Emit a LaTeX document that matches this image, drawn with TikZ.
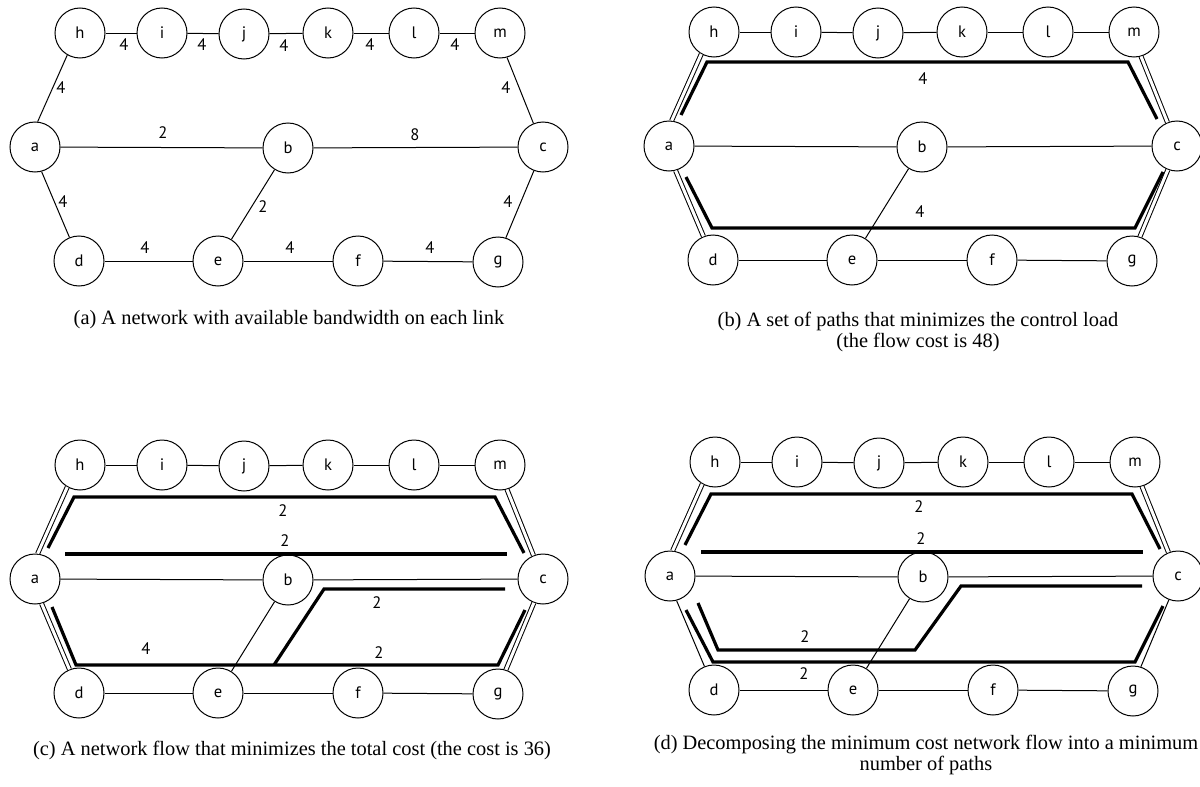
\documentclass[tikz,border=0pt]{standalone}
\usepackage{fontspec}
\setmainfont{Liberation Serif}
\setsansfont{PT Sans}
\newcommand\netnodes[1]{%
  \node[vtx] (#1h) at (80,33) {h};
  \node[vtx] (#1i) at (162,33) {i};
  \node[vtx] (#1j) at (244,34) {j};
  \node[vtx] (#1k) at (328,33) {k};
  \node[vtx] (#1l) at (414,33) {l};
  \node[vtx] (#1m) at (500,33) {m};
  \node[vtx] (#1a) at (35,147) {a};
  \node[vtx] (#1b) at (288,148) {b};
  \node[vtx] (#1c) at (543,147) {c};
  \node[vtx] (#1d) at (79,261) {d};
  \node[vtx] (#1e) at (218,261) {e};
  \node[vtx] (#1f) at (358,261) {f};
  \node[vtx] (#1g) at (498,262) {g};
  \draw[edge] (#1h) -- (#1i);
  \draw[edge] (#1i) -- (#1j);
  \draw[edge] (#1j) -- (#1k);
  \draw[edge] (#1k) -- (#1l);
  \draw[edge] (#1l) -- (#1m);
  \draw[edge] (#1a) -- (#1b);
  \draw[edge] (#1b) -- (#1c);
  \draw[edge] (#1b) -- (#1e);
  \draw[edge] (#1d) -- (#1e);
  \draw[edge] (#1e) -- (#1f);
  \draw[edge] (#1f) -- (#1g);
}
\tikzset{
  vtx/.style={circle, draw, line width=0.5pt, minimum size=25pt, inner sep=0pt, font=\sffamily\fontsize{8.3}{8.3}\selectfont},
  edge/.style={line width=0.5pt},
  dedge/.style={double, line width=0.5pt, double distance=1.5pt},
  flow/.style={line width=1.6pt},
  lbl/.style={inner sep=0pt, font=\sffamily\fontsize{8.3}{8.3}\selectfont},
  captxt/.style={inner sep=0pt, align=center, font=\fontsize{10.2}{10.3}\selectfont}
}
\begin{document}
\begin{tikzpicture}[x=0.5pt,y=-0.5pt]
\useasboundingbox (0,0) rectangle (1200,787);
% ---------- (a)
\begin{scope}
  \netnodes{A}
  \draw[edge] (Aa.84) -- (Ah.240);
  \draw[edge] (Am.286) -- (Ac.112);
  \draw[edge] (Aa.285) -- (Ad.112);
  \draw[edge] (Ac.249) -- (Ag.72);
  \node[lbl] (Al1) at (124,45) {4};
  \node[lbl] (Al2) at (202,45) {4};
  \node[lbl] (Al3) at (284,46) {4};
  \node[lbl] (Al4) at (370,45) {4};
  \node[lbl] (Al5) at (455,45) {4};
  \node[lbl] (Al6) at (61,88) {4};
  \node[lbl] (Al7) at (506,88) {4};
  \node[lbl] (Al8) at (163,133) {2};
  \node[lbl] (Al9) at (415,135) {8};
  \node[lbl] (Al10) at (63,202) {4};
  \node[lbl] (Al11) at (508,202) {4};
  \node[lbl] (Al12) at (263,207) {2};
  \node[lbl] (Al13) at (145,248) {4};
  \node[lbl] (Al14) at (290,248) {4};
  \node[lbl] (Al15) at (430,248) {4};
\end{scope}
\node[captxt] (capA) at (289,320) {(a) A network with available bandwidth on each link};
% ---------- (b)
\begin{scope}[shift={(634,-1)}]
  \netnodes{B}
  \draw[dedge] (Ba.84) -- (Bh.240);
  \draw[dedge] (Bm.286) -- (Bc.112);
  \draw[dedge] (Ba.285) -- (Bd.112);
  \draw[dedge] (Bc.249) -- (Bg.72);
  \draw[flow] (47,116) -- (73,63) -- (494,63) -- (523,120);
  \draw[flow] (52,178) -- (78,229) -- (501,229) -- (529,173);
  \node[lbl] (Bl1) at (289,80) {4};
  \node[lbl] (Bl2) at (286,213) {4};
\end{scope}
\node[captxt] (capB) at (918,332) {(b) A set of paths that minimizes the control load\\(the flow cost is 48)};
% ---------- (c)
\begin{scope}[shift={(0,432)}]
  \netnodes{C}
  \draw[dedge] (Ca.84) -- (Ch.240);
  \draw[dedge] (Cm.286) -- (Cc.112);
  \draw[dedge] (Ca.285) -- (Cd.112);
  \draw[dedge] (Cc.249) -- (Cg.72);
  \draw[flow] (48,116) -- (74,65) -- (495,65) -- (524,121);
  \draw[flow] (65,122) -- (507,122);
  \draw[flow] (505,157) -- (324,157) -- (274,233);
  \draw[flow] (52,175) -- (76,233) -- (498,233) -- (525,178);
  \node[lbl] (Cl1) at (283,79) {2};
  \node[lbl] (Cl2) at (285,109) {2};
  \node[lbl] (Cl3) at (377,171) {2};
  \node[lbl] (Cl4) at (146,217) {4};
  \node[lbl] (Cl5) at (379,221) {2};
\end{scope}
\node[captxt] (capC) at (292,750) {(c) A network flow that minimizes the total cost (the cost is 36)};
% ---------- (d)
\begin{scope}[shift={(635,429)}]
  \netnodes{D}
  \draw[dedge] (Da.84) -- (Dh.240);
  \draw[dedge] (Dm.286) -- (Dc.112);
  \draw[edge] (Da.285) -- (Dd.112);
  \draw[edge] (Dc.249) -- (Dg.72);
  \draw[flow] (50,116) -- (76,65) -- (497,65) -- (525,120);
  \draw[flow] (66,123) -- (508,123);
  \draw[flow] (507,157) -- (326,157) -- (280,221) -- (83,221) -- (63,174);
  \draw[flow] (51,181) -- (78,233) -- (500,233) -- (528,177);
  \node[lbl] (Dl1) at (284,78) {2};
  \node[lbl] (Dl2) at (286,110) {2};
  \node[lbl] (Dl3) at (170,208) {2};
  \node[lbl] (Dl4) at (169,245) {2};
\end{scope}
\node[captxt] (capD) at (926,755) {(d) Decomposing the minimum cost network flow into a minimum\\number of paths};
\end{tikzpicture}
\end{document}
